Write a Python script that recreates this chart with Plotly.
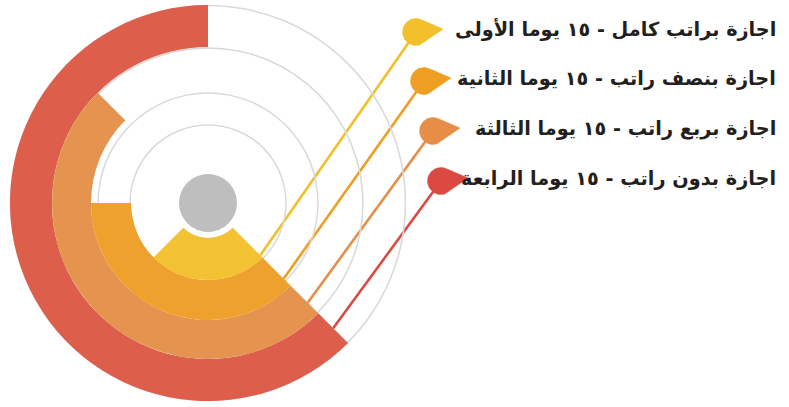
import numpy as np
import plotly.graph_objects as go

# ---------------- data ----------------
labels = [
    "اجازة براتب كامل - ١٥ يوما الأولى",
    "اجازة بنصف راتب - ١٥ يوما الثانية",
    "اجازة بربع راتب - ١٥ يوما الثالثة",
    "اجازة بدون راتب - ١٥ يوما الرابعة",
]
arc_degrees = [90, 135, 180, 225]          # angular extent of each ring

# ---------------- styles / layout ----------------
ring_colors = ["#F3C232", "#EFA12D", "#E4944F", "#DE5E4C"]
line_colors = ["#F2C02A", "#EF9E24", "#E68E46", "#DA4A42"]
RING_EDGES = [35, 77, 117, 156, 198]       # px radii of ring boundaries
GUIDE_R = [78, 110, 155, 197.5]
LINE_START_R = [74, 107, 141, 177]
MARK_X = [416, 424, 433, 441]
ROW_Y = [29, 78, 128, 178]
TEXT_X = 778

W, H = 789, 407
CX, CY = 208, 203
R_AX = 200
START_ANGLE = 135   # clockwise from top (lower-right)

fig = go.Figure()

# guide circles (drawn first => underneath)
for rg in GUIDE_R:
    fig.add_trace(go.Barpolar(
        r=[1.5, 1.5], base=[rg - 0.75, rg - 0.75], theta=[90, 270], width=[180, 180],
        marker=dict(color="#D9D9D9", line=dict(width=0)),
        hoverinfo="skip", showlegend=False))

# rings (outermost first)
for i in reversed(range(len(arc_degrees))):
    span = arc_degrees[i]
    fig.add_trace(go.Barpolar(
        r=[RING_EDGES[i + 1] - RING_EDGES[i]], base=[RING_EDGES[i]],
        theta=[START_ANGLE + span / 2], width=[span],
        marker=dict(color=ring_colors[i], line=dict(width=0)),
        name=labels[i], hoverinfo="name", showlegend=False))

# grey centre disk
fig.add_trace(go.Scatterpolar(
    r=[0], theta=[0], mode="markers",
    marker=dict(size=58, color="#BEBEBE", line=dict(width=0)),
    hoverinfo="skip", showlegend=False))

# leader lines + tear-drop markers (cartesian overlay, 1 unit = 1 px, y down)
ang = np.deg2rad(45)
R_BODY = 13.5
t = np.linspace(np.deg2rad(60), np.deg2rad(300), 40)
for i in range(len(labels)):
    x0 = CX + LINE_START_R[i] * np.cos(ang)
    y0 = CY + LINE_START_R[i] * np.sin(ang)
    mx, my = MARK_X[i], ROW_Y[i] + 3
    fig.add_trace(go.Scatter(
        x=[x0, mx], y=[y0, my], mode="lines",
        line=dict(color=line_colors[i], width=2.6),
        hoverinfo="skip", showlegend=False, xaxis="x", yaxis="y"))
    bx = np.concatenate([[mx + 2 * R_BODY], mx + R_BODY * np.cos(t), [mx + 2 * R_BODY]])
    by = np.concatenate([[my - 3], my + R_BODY * np.sin(t), [my - 3]])
    fig.add_trace(go.Scatter(
        x=bx, y=by, mode="lines", fill="toself", fillcolor=line_colors[i],
        line=dict(color=line_colors[i], width=0.5),
        hoverinfo="skip", showlegend=False, xaxis="x", yaxis="y"))

annotations = []
for i, lab in enumerate(labels):
    annotations.append(dict(
        x=TEXT_X, y=ROW_Y[i], xref="x", yref="y", text="<b>" + lab + "</b>", showarrow=False,
        xanchor="right", yanchor="middle",
        font=dict(family="DejaVu Sans", size=19.3, color="#231F20")))

fig.update_layout(
    width=W, height=H,
    margin=dict(l=0, r=0, t=0, b=0),
    paper_bgcolor="white", plot_bgcolor="rgba(0,0,0,0)",
    xaxis=dict(range=[0, W], domain=[0, 1], visible=False, fixedrange=True),
    yaxis=dict(range=[H, 0], domain=[0, 1], visible=False, fixedrange=True),
    polar=dict(
        domain=dict(x=[(CX - R_AX) / W, (CX + R_AX) / W],
                    y=[(H - CY - R_AX) / H, (H - CY + R_AX) / H]),
        bgcolor="rgba(0,0,0,0)",
        barmode="overlay",
        hole=0,
        radialaxis=dict(range=[0, R_AX], visible=False),
        angularaxis=dict(direction="clockwise", rotation=90, visible=False),
    ),
    annotations=annotations,
    showlegend=False,
)

fig.write_html("out.html")
